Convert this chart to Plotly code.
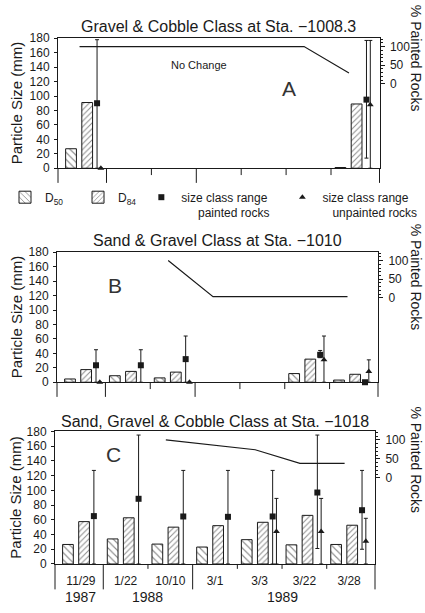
import plotly.graph_objects as go

# ---------------- data ----------------
categories = ["11/29", "1/22", "10/10", "3/1", "3/3", "3/22", "3/28"]
years = ["1987", "1988", "1989"]
year_start = [0, 1, 3]
year_end = [1, 3, 7]

titles = ["Gravel & Cobble Class at Sta. \u22121008.3",
          "Sand & Gravel Class at Sta. \u22121010",
          "Sand, Gravel & Cobble Class at Sta. \u22121018"]
panel_letters = ["A", "B", "C"]

# Panel A (Sta. -1008.3)
a_d50 = [27, None, None, None, None, None, 1]
a_d84 = [91, None, None, None, None, None, 89]
a_paint = [90, None, None, None, None, None, 95]
a_paint_lo = [0, None, None, None, None, None, 14]
a_paint_hi = [178, None, None, None, None, None, 177]
a_unpaint = [0, None, None, None, None, None, 88]
a_unpaint_lo = [None, None, None, None, None, None, 0]
a_unpaint_hi = [None, None, None, None, None, None, 177]
a_pct = [100, 100, 100, 100, 100, 100, 29]

# Panel B (Sta. -1010)
b_d50 = [4.5, 9, 6, None, None, 12, 3]
b_d84 = [17.5, 15, 14, None, None, 32, 11]
b_paint = [23.5, 23.5, 32, None, None, 38, 0]
b_paint_lo = [0, 0, 0, None, None, 34, None]
b_paint_hi = [45, 45, 64, None, None, 44, None]
b_unpaint = [0, None, 0, None, None, 31, 15]
b_unpaint_lo = [None, None, None, None, None, 0, 0]
b_unpaint_hi = [None, None, None, None, None, 64, 31]
b_pct = [None, None, 100, 3, 3, 3, 3]

# Panel C (Sta. -1018)
c_d50 = [26.5, 34, 27, 23, 33, 26, 26.5]
c_d84 = [57.5, 62.7, 50, 52, 56.6, 66, 52.6]
c_paint = [65, 88.5, 64.5, 64, 64.5, 97, 73]
c_paint_lo = [0, 0, 0, 0, 0, 21, 20]
c_paint_hi = [127, 175, 127, 127, 127, 175, 127]
c_unpaint = [None, None, None, None, 44, 44, 31]
c_unpaint_lo = [None, None, None, None, 0, 0, 0]
c_unpaint_hi = [None, None, None, None, 89, 89, 62]
c_pct = [None, None, 100, 87, 74, 38, 38]

# ---------------- layout constants (pixels) ----------------
W, H = 425, 613
FONT = "Liberation Sans"
INK = "#1a1a1a"
NB = "\u00a0"
geom = [
    dict(xl=58, xr=379.5, y0=165, y180=32, longext=15, shortext=7, title_y=20, rt_y=52, letter=(289, 83)),
    dict(xl=57, xr=378, y0=384, y180=251, longext=15, shortext=7, title_y=239, rt_y=276, letter=(115, 285)),
    dict(xl=55, xr=375, y0=570, y180=434.3, longext=26, shortext=5, title_y=424, rt_y=463, letter=(113, 458)),
]
XR = [-0.08, 7.08]
# % painted axis mapping: 0% -> 117 mm, 100% -> 168.5 mm on the left scale
P0, PSLOPE = 117.0, 0.515
R2 = [(0 - P0) / PSLOPE, (180 - P0) / PSLOPE]

OFF_D50, OFF_D84, OFF_SQ, OFF_TRI, OFF_LINE = 0.21, 0.57, 0.79, 0.875, 0.40
BAR_W = 0.24

legend_names = ["D<sub>50</sub>" + NB * 3,
                "D<sub>84</sub>",
                "size class range" + NB * 3 + "<br>" + NB * 5 + "painted rocks",
                "size class range<br>" + NB * 3 + "unpainted rocks"]

panels = [
    (a_d50, a_d84, a_paint, a_paint_lo, a_paint_hi, a_unpaint, a_unpaint_lo, a_unpaint_hi, a_pct),
    (b_d50, b_d84, b_paint, b_paint_lo, b_paint_hi, b_unpaint, b_unpaint_lo, b_unpaint_hi, b_pct),
    (c_d50, c_d84, c_paint, c_paint_lo, c_paint_hi, c_unpaint, c_unpaint_lo, c_unpaint_hi, c_pct),
]


def err_up(v, hi):
    return [(h - x) if (x is not None and h is not None) else None for x, h in zip(v, hi)]


def err_dn(v, lo):
    return [(x - l) if (x is not None and l is not None) else None for x, l in zip(v, lo)]


def px(xp):
    return xp / W


def py(yp):
    return 1 - yp / H


fig = go.Figure()
annotations = []
shapes = []
idx = list(range(len(categories)))

for k, (d50, d84, pt, ptlo, pthi, up, uplo, uphi, pct) in enumerate(panels):
    g = geom[k]
    xref = "x" if k == 0 else f"x{k + 1}"
    yl = "y" if k == 0 else f"y{2 * k + 1}"
    yr = f"y{2 * k + 2}"
    first = (k == 0)

    fig.add_trace(go.Bar(
        x=[i + OFF_D50 for i in idx], y=d50, width=BAR_W, xaxis=xref, yaxis=yl,
        name=legend_names[0], showlegend=first,
        marker=dict(color="white", line=dict(color=INK, width=1),
                    pattern=dict(shape="\\", size=5, solidity=0.22, fgcolor=INK, bgcolor="white")),
    ))
    fig.add_trace(go.Bar(
        x=[i + OFF_D84 for i in idx], y=d84, width=BAR_W, xaxis=xref, yaxis=yl,
        name=legend_names[1], showlegend=first,
        marker=dict(color="white", line=dict(color=INK, width=1),
                    pattern=dict(shape="/", size=4, solidity=0.25, fgcolor=INK, bgcolor="white")),
    ))
    fig.add_trace(go.Scatter(
        x=[i + OFF_SQ for i in idx], y=pt, mode="markers", xaxis=xref, yaxis=yl,
        name=legend_names[2], showlegend=first, cliponaxis=False,
        marker=dict(symbol="square", size=6, color=INK),
        error_y=dict(type="data", symmetric=False, array=err_up(pt, pthi),
                     arrayminus=err_dn(pt, ptlo), color=INK, thickness=1, width=2),
    ))
    fig.add_trace(go.Scatter(
        x=[i + OFF_TRI for i in idx], y=up, mode="markers", xaxis=xref, yaxis=yl,
        name=legend_names[3], showlegend=first, cliponaxis=False,
        marker=dict(symbol="triangle-up", size=6, color=INK),
        error_y=dict(type="data", symmetric=False, array=err_up(up, uphi),
                     arrayminus=err_dn(up, uplo), color=INK, thickness=1, width=2),
    ))
    fig.add_trace(go.Scatter(
        x=[i + OFF_LINE for i in idx], y=pct, mode="lines", xaxis=xref, yaxis=yr,
        showlegend=False, line=dict(color=INK, width=1.2), connectgaps=False,
    ))

    xdom = [px(g["xl"]), px(g["xr"])]
    ydom = [py(g["y0"]), py(g["y180"])]
    xname = "xaxis" if k == 0 else f"xaxis{k + 1}"
    ylname = "yaxis" if k == 0 else f"yaxis{2 * k + 1}"
    yrname = f"yaxis{2 * k + 2}"

    xa = dict(domain=xdom, anchor=yl, range=XR, showline=True, mirror=True,
              linecolor=INK, linewidth=1, showgrid=False, zeroline=False,
              ticks="", showticklabels=False, fixedrange=True)
    if k == 2:
        xa.update(showticklabels=True, tickmode="array",
                  tickvals=[i + 0.5 for i in idx], ticktext=categories,
                  tickfont=dict(family=FONT, size=12, color=INK), ticklabelstandoff=6)
    fig.update_layout(**{xname: xa})
    fig.update_layout(**{ylname: dict(
        domain=ydom, anchor=xref, range=[0, 180], dtick=20, tick0=0,
        showline=True, mirror=True, linecolor=INK, linewidth=1,
        ticks="outside", ticklen=3, tickcolor=INK, showgrid=False, zeroline=False,
        tickfont=dict(family=FONT, size=12, color=INK), ticklabelstandoff=2)})
    fig.update_layout(**{yrname: dict(
        overlaying=yl, anchor=xref, side="right", range=R2,
        tickmode="array", tickvals=[0, 50, 100], ticks="outside", ticklen=4,
        tickcolor=INK, showline=False, showgrid=False, zeroline=False,
        tickfont=dict(family=FONT, size=12, color=INK), ticklabelstandoff=3,
        minor=dict(tickmode="array", tickvals=list(range(0, 121, 10)),
                   ticks="outside", ticklen=2, tickcolor=INK))})

    ybot = py(g["y0"])
    for xb in [0, 1]:
        shapes.append(dict(type="line", xref=f"{xref} domain", yref="paper",
                           x0=xb, x1=xb, y0=ybot, y1=py(g["y0"] + g["longext"]),
                           line=dict(color=INK, width=1)))
    for b in range(1, len(categories)):
        ext = g["longext"] if b in year_start else g["shortext"]
        shapes.append(dict(type="line", xref=xref, yref="paper",
                           x0=b, x1=b, y0=ybot, y1=py(g["y0"] + ext),
                           line=dict(color=INK, width=1)))

    annotations.append(dict(text=titles[k], xref="paper", yref="paper",
                            x=px((g["xl"] + g["xr"]) / 2), y=py(g["title_y"]),
                            showarrow=False, font=dict(family=FONT, size=16, color=INK),
                            xanchor="center", yanchor="middle"))
    annotations.append(dict(text="Particle Size (mm)", xref="paper", yref="paper",
                            x=px(16), y=py((g["y0"] + g["y180"]) / 2), textangle=-90,
                            showarrow=False, font=dict(family=FONT, size=15, color=INK),
                            xanchor="center", yanchor="middle"))
    annotations.append(dict(text="% Painted Rocks", xref="paper", yref="paper",
                            x=px(416), y=py(g["rt_y"]), textangle=90,
                            showarrow=False, font=dict(family=FONT, size=14, color=INK),
                            xanchor="center", yanchor="middle"))
    annotations.append(dict(text=panel_letters[k], xref="paper", yref="paper",
                            x=px(g["letter"][0]), y=py(g["letter"][1]),
                            showarrow=False, font=dict(family=FONT, size=21, color="#333"),
                            xanchor="center", yanchor="middle"))

annotations.append(dict(text="No Change", xref="paper", yref="paper",
                        x=px(199), y=py(51), showarrow=False,
                        font=dict(family=FONT, size=11, color=INK)))
for yr, s, e in zip(years, year_start, year_end):
    annotations.append(dict(text=yr, xref="x3", yref="paper", x=(s + e) / 2, y=0,
                            showarrow=False, font=dict(family=FONT, size=14, color=INK),
                            xanchor="center", yanchor="bottom", borderpad=0))

fig.update_layout(
    width=W, height=H, margin=dict(l=0, r=0, t=0, b=0),
    paper_bgcolor="white", plot_bgcolor="white", barmode="overlay",
    font=dict(family=FONT, size=12, color=INK),
    showlegend=True,
    legend=dict(orientation="h", x=px(5), y=py(180), xanchor="left", yanchor="top",
                font=dict(family=FONT, size=12, color=INK), valign="top",
                bgcolor="rgba(0,0,0,0)", itemwidth=30, tracegroupgap=0),
    annotations=annotations, shapes=shapes,
)

fig.write_html("out.html", config={"displayModeBar": False},
               post_script="document.body.style.margin='0';document.body.style.overflow='hidden';")
